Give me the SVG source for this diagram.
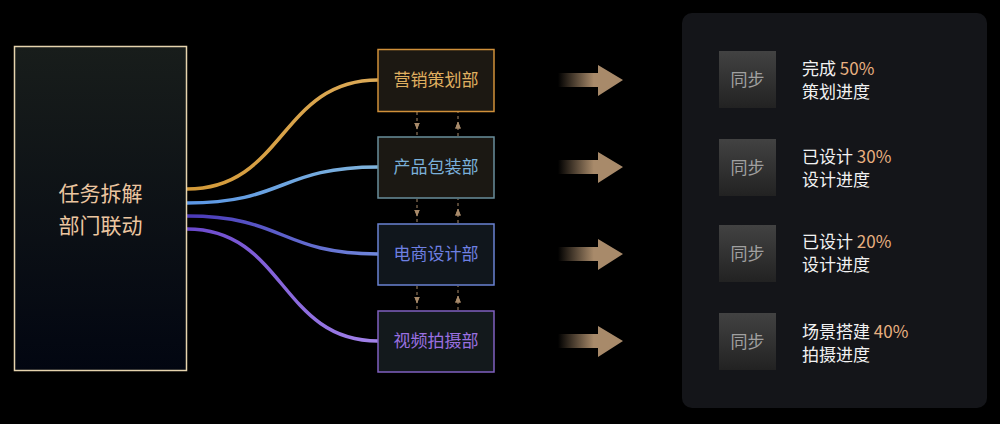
<svg xmlns="http://www.w3.org/2000/svg" width="1000" height="424" viewBox="0 0 1000 424">
<defs>
<linearGradient id="gMain" x1="0" y1="0" x2="0" y2="1"><stop offset="0" stop-color="#181d1b"/><stop offset="1" stop-color="#020611"/></linearGradient>
<linearGradient id="gSync" x1="0" y1="0" x2="0" y2="1"><stop offset="0" stop-color="#424242"/><stop offset="1" stop-color="#222222"/></linearGradient>
<linearGradient id="gArrow" x1="558" y1="0" x2="623" y2="0" gradientUnits="userSpaceOnUse"><stop offset="0" stop-color="#a88a6a" stop-opacity="0"/><stop offset="0.55" stop-color="#a88a6a"/><stop offset="1" stop-color="#a88a6a"/></linearGradient>
<linearGradient id="c1" x1="0" y1="0" x2="1" y2="0"><stop offset="0" stop-color="#d49a38"/><stop offset="1" stop-color="#dcaa58"/></linearGradient>
<linearGradient id="c2" x1="0" y1="0" x2="1" y2="0"><stop offset="0" stop-color="#5a96e6"/><stop offset="1" stop-color="#80b4dc"/></linearGradient>
<linearGradient id="c3" x1="0" y1="0" x2="1" y2="0"><stop offset="0" stop-color="#4a38b8"/><stop offset="1" stop-color="#7088dc"/></linearGradient>
<linearGradient id="c4" x1="0" y1="0" x2="1" y2="0"><stop offset="0" stop-color="#6a48cc"/><stop offset="1" stop-color="#a484ea"/></linearGradient>
<marker id="mTan" viewBox="0 0 10 10" refX="5" refY="5" markerWidth="7" markerHeight="7" orient="auto"><path d="M0,1 L10,5 L0,9 z" fill="#a88a6a"/></marker>
<marker id="mGray" viewBox="0 0 10 10" refX="5" refY="5" markerWidth="7" markerHeight="7" orient="auto"><path d="M0,1 L10,5 L0,9 z" fill="#8a8a8a"/></marker>
<style>
.cjk{font-family:"Noto Sans CJK SC","Noto Sans",sans-serif;}
.dept{font-size:17px;text-anchor:middle;}
.curve{fill:none;stroke-width:3.5;}
.dtan{stroke:#a88a6a;stroke-width:1;stroke-dasharray:3,3;fill:none;}
.dgray{stroke:#7a7a7a;stroke-width:1;stroke-dasharray:3,3;fill:none;}
.sync{fill:url(#gSync);}
.synct{font-size:17px;fill:#a0a0a0;text-anchor:middle;}
.info{font-size:17px;fill:#f2f2f2;}
.pct{fill:#e8b080;}
.arr{fill:url(#gArrow);}
</style>
</defs>
<rect width="1000" height="424" fill="#000"/>

<g id="connectors">
<path class="curve" stroke="url(#c1)" d="M187,189 C285,189 280,80 378,80"/>
<path class="curve" stroke="url(#c2)" d="M187,203 C285,203 280,167 378,167"/>
<path class="curve" stroke="url(#c3)" d="M187,216 C285,216 280,254 378,254"/>
<path class="curve" stroke="url(#c4)" d="M187,229 C285,229 280,341 378,341"/>
<g id="dept-links">
<path class="dtan" d="M417,112 L417,126 M417,126 L417,136" marker-mid="url(#mTan)"/>
<path class="dtan" d="M458,136 L458,125 M458,125 L458,112" marker-mid="url(#mTan)"/>
<path class="dtan" d="M417,199 L417,213 M417,213 L417,223" marker-mid="url(#mTan)"/>
<path class="dtan" d="M458,223 L458,212 M458,212 L458,199" marker-mid="url(#mTan)"/>
<path class="dtan" d="M417,286 L417,300 M417,300 L417,310" marker-mid="url(#mTan)"/>
<path class="dtan" d="M458,310 L458,299 M458,299 L458,286" marker-mid="url(#mTan)"/>
</g>
<g id="sync-links">
<path class="dgray" d="M737,108 L737,122 M737,122 L737,139" marker-mid="url(#mGray)"/>
<path class="dgray" d="M757,139 L757,122 M757,122 L757,108" marker-mid="url(#mGray)"/>
<path class="dgray" d="M737,196 L737,208 M737,208 L737,225" marker-mid="url(#mGray)"/>
<path class="dgray" d="M757,225 L757,208 M757,208 L757,196" marker-mid="url(#mGray)"/>
<path class="dgray" d="M737,282 L737,295 M737,295 L737,313" marker-mid="url(#mGray)"/>
<path class="dgray" d="M757,313 L757,295 M757,295 L757,282" marker-mid="url(#mGray)"/>
</g>
<g id="flow-arrows">
<path class="arr" d="M558,73 L598,73 L598,65 L623,80 L598,96 L598,87 L558,87 z"/>
<path class="arr" d="M558,160 L598,160 L598,152 L623,167 L598,183 L598,174 L558,174 z"/>
<path class="arr" d="M558,247 L598,247 L598,239 L623,254 L598,270 L598,261 L558,261 z"/>
<path class="arr" d="M558,334 L598,334 L598,326 L623,341 L598,357 L598,348 L558,348 z"/>
</g>
</g>

<g id="main">
<rect x="14.5" y="46.5" width="172" height="324" fill="url(#gMain)" stroke="#e6d4ae" stroke-width="1.5"/>
<text class="cjk" x="100.5" y="201" font-size="21" fill="#ecc6a0" text-anchor="middle">任务拆解</text>
<text class="cjk" x="100.5" y="233" font-size="21" fill="#ecc6a0" text-anchor="middle">部门联动</text>
</g>

<g id="dept1">
<rect x="378" y="49.5" width="116" height="62" fill="#1c1812" stroke="#d0903a" stroke-width="1.5"/>
<text class="cjk dept" x="436" y="86" fill="#e0b060">营销策划部</text>
</g>
<g id="dept2">
<rect x="378" y="137" width="116" height="61" fill="#1b1813" stroke="#6a8e9c" stroke-width="1.5"/>
<text class="cjk dept" x="436" y="173" fill="#7ab0da">产品包装部</text>
</g>
<g id="dept3">
<rect x="378" y="224" width="116" height="61" fill="#10161c" stroke="#6a82d2" stroke-width="1.5"/>
<text class="cjk dept" x="436" y="260" fill="#6e80e2">电商设计部</text>
</g>
<g id="dept4">
<rect x="378" y="311" width="116" height="61" fill="#13191c" stroke="#8060c0" stroke-width="1.5"/>
<text class="cjk dept" x="436" y="347" fill="#9a70e0">视频拍摄部</text>
</g>

<g id="panel">
<rect x="682" y="13" width="305" height="395" rx="10" fill="#141519"/>
</g>

<g id="sync1">
<rect class="sync" x="719" y="51" width="57" height="57"/>
<text class="cjk synct" x="747.5" y="85.5">同步</text>
<text class="cjk info" x="802" y="75">完成 <tspan class="pct">50%</tspan></text>
<text class="cjk info" x="802" y="98">策划进度</text>
</g>
<g id="sync2">
<rect class="sync" x="719" y="139" width="57" height="57"/>
<text class="cjk synct" x="747.5" y="173.5">同步</text>
<text class="cjk info" x="802" y="163">已设计 <tspan class="pct">30%</tspan></text>
<text class="cjk info" x="802" y="186">设计进度</text>
</g>
<g id="sync3">
<rect class="sync" x="719" y="225" width="57" height="57"/>
<text class="cjk synct" x="747.5" y="259.5">同步</text>
<text class="cjk info" x="802" y="248">已设计 <tspan class="pct">20%</tspan></text>
<text class="cjk info" x="802" y="271">设计进度</text>
</g>
<g id="sync4">
<rect class="sync" x="719" y="313" width="57" height="57"/>
<text class="cjk synct" x="747.5" y="347.5">同步</text>
<text class="cjk info" x="802" y="338">场景搭建 <tspan class="pct">40%</tspan></text>
<text class="cjk info" x="802" y="361">拍摄进度</text>
</g>
</svg>
